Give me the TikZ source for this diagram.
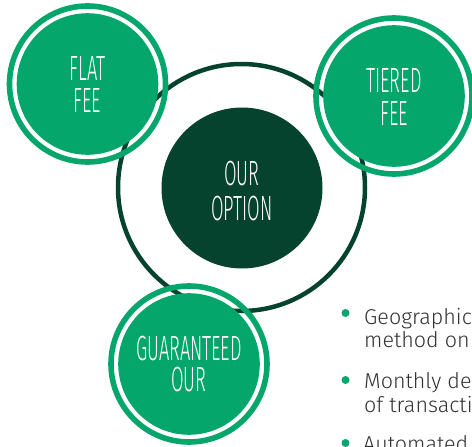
\documentclass[tikz,border=0pt]{standalone}
\usepackage{fontspec}
\setmainfont{Fira Sans}[UprightFont=* Light]
\newfontfamily\condfont{Fira Sans}[UprightFont=* Light, FakeStretch=0.52]
\definecolor{brandgreen}{RGB}{5,166,107}
\definecolor{branddark}{RGB}{6,67,47}
\definecolor{bodygray}{RGB}{50,50,50}
\begin{document}
\begin{tikzpicture}[x=1pt,y=-1pt,
  outerring/.style={circle, draw=brandgreen, line width=5.6pt, minimum size=156pt, inner sep=0pt},
  innerdisc/.style={circle, fill=brandgreen, minimum size=141.6pt, inner sep=0pt},
  circtext/.style={anchor=base, text=white, font=\condfont\fontsize{35}{38}\selectfont, inner sep=0pt},
  bodytext/.style={anchor=base west, text=bodygray, font=\fontsize{21.5}{23}\selectfont, inner sep=0pt},
  bulletdot/.style={circle, fill=brandgreen, minimum size=8pt, inner sep=0pt}]
\useasboundingbox (0,0) rectangle (472,447);
\clip (0,0) rectangle (472,447);
% big dark ring
\node[circle, draw=branddark, line width=4.5pt, minimum size=247pt, inner sep=0pt] (bigring) at (241.5,187.5) {};
% outer green rings
\node[outerring] (flatring) at (87.5,84) {};
\node[outerring] (tierring) at (394,96) {};
\node[outerring] (guarring) at (189,364) {};
% inner discs
\node[innerdisc] (flat) at (flatring.center) {};
\node[innerdisc] (tier) at (tierring.center) {};
\node[innerdisc] (guar) at (guarring.center) {};
% central disc
\node[circle, fill=branddark, minimum size=161pt, inner sep=0pt] (center) at (242,188) {};
% circle texts
\node[circtext] (flatA) at (87.5,80) {FLAT};
\node[circtext] (flatB) at (87.5,112) {FEE};
\node[circtext] (tierA) at (394,92) {TIERED};
\node[circtext] (tierB) at (394,125) {FEE};
\node[circtext] (centA) at (242,185) {OUR};
\node[circtext] (centB) at (242,220) {OPTION};
\node[circtext] (guarA) at (189,360) {GUARANTEED};
\node[circtext] (guarB) at (189,391.5) {OUR};
% bullets
\node[bulletdot] (dot1) at (345.5,313) {};
\node[bulletdot] (dot2) at (345.5,380) {};
\node[bulletdot] (dot3) at (345.5,443) {};
\node[bodytext] (b1a) at (364,324) {Geographic};
\node[bodytext] (b1b) at (364,347) {method on};
\node[bodytext] (b2a) at (364,388) {Monthly de};
\node[bodytext] (b2b) at (364,412) {of transacti};
\node[bodytext] (b3a) at (363,451) {Automated};
\end{tikzpicture}
\end{document}
